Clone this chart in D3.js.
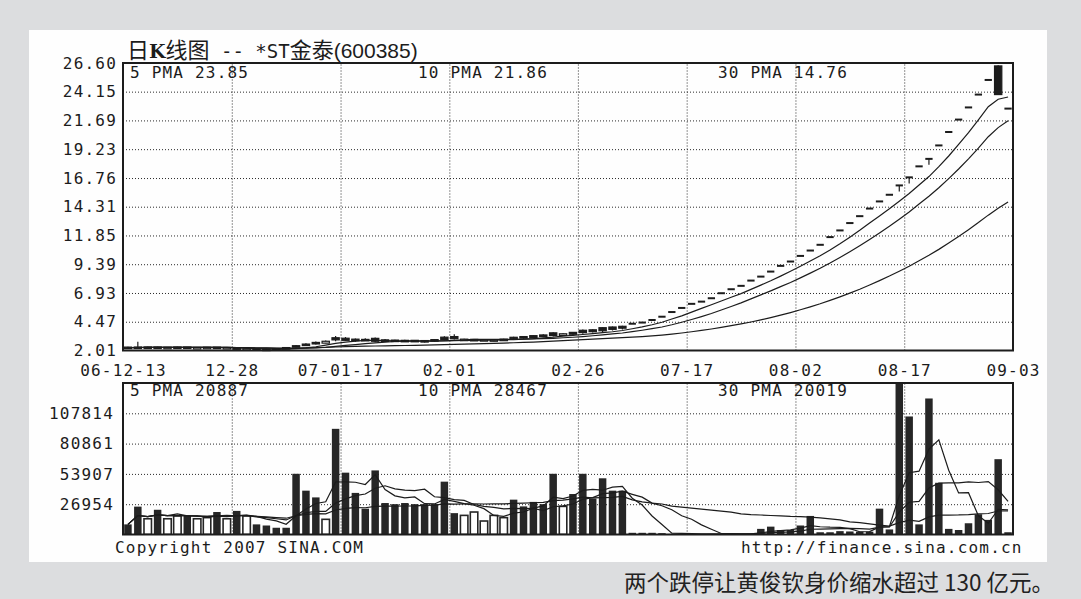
<!DOCTYPE html>
<html>
<head>
<meta charset="utf-8">
<script src="https://cdn.jsdelivr.net/npm/d3@7"></script>
<style>
  body { margin: 0; background: #dcdddf; }
  svg { display: block; }
</style>
</head>
<body>
<svg id="chart" width="1081" height="599"></svg>
<script>
// ---- data ----------------------------------------------------------------
var xLabels  = ["06-12-13", "12-28", "07-01-17", "02-01", "02-26", "07-17", "08-02", "08-17", "09-03"];
var xTickIdx = [0, 11, 22, 33, 46, 57, 68, 79, 90];

var priceTicks = ["2.01", "4.47", "6.93", "9.39", "11.85", "14.31", "16.76", "19.23", "21.69", "24.15", "26.60"];
var volTicks   = ["26954", "53907", "80861", "107814"];

var priceLegend = ["5 PMA 23.85", "10 PMA 21.86", "30 PMA 14.76"];
var volLegend   = ["5 PMA 20887", "10 PMA 28467", "30 PMA 20019"];

var open = [2.30, 2.31, 2.26, 2.31, 2.25, 2.28, 2.31, 2.23, 2.26, 2.30,
            2.23, 2.24, 2.11, 2.15, 2.13, 2.16, 2.26, 2.42, 2.56, 2.70,
            2.64, 3.10, 3.06, 2.98, 2.96, 3.05, 2.92, 2.90, 2.88, 2.88,
            2.86, 2.94, 3.15, 3.20, 2.88, 2.90, 2.86, 2.88, 2.90, 3.14,
            3.20, 3.28, 3.34, 3.52, 3.30, 3.56, 3.74, 3.78, 3.96, 4.02,
            4.08, 4.30, 4.40, 4.62, 4.90, 5.30, 5.65, 6.00, 6.19, 6.48,
            6.91, 7.25, 7.54, 7.99, 8.33, 8.76, 9.25, 9.62, 10.10, 10.56,
            11.05, 11.71, 12.28, 12.91, 13.50, 14.15, 14.76, 15.33, 16.13, 16.82,
            17.76, 18.40, 19.55, 20.70, 21.76, 22.80, 23.90, 25.15, 26.35, 22.70];
var high = [2.33, 2.75, 2.34, 2.33, 2.31, 2.33, 2.32, 2.29, 2.31, 2.32,
            2.30, 2.25, 2.17, 2.17, 2.15, 2.20, 2.30, 2.48, 2.62, 2.78,
            2.86, 3.25, 3.16, 3.04, 3.05, 3.12, 3.00, 2.94, 2.92, 2.90,
            2.88, 2.96, 3.22, 3.40, 3.02, 3.00, 2.98, 2.97, 3.01, 3.18,
            3.24, 3.32, 3.40, 3.58, 3.50, 3.60, 3.80, 3.82, 4.00, 4.06,
            4.12, 4.30, 4.40, 4.62, 4.90, 5.30, 5.65, 6.00, 6.19, 6.48,
            6.91, 7.25, 7.54, 7.99, 8.33, 8.76, 9.25, 9.62, 10.10, 10.56,
            11.05, 11.71, 12.28, 12.91, 13.50, 14.15, 14.76, 15.33, 16.13, 16.82,
            17.76, 18.40, 19.55, 20.70, 21.76, 22.80, 23.90, 25.15, 26.40, 22.70];
var low  = [2.24, 2.22, 2.24, 2.22, 2.23, 2.24, 2.21, 2.20, 2.23, 2.21,
            2.21, 2.10, 2.07, 2.06, 2.06, 2.09, 2.14, 2.26, 2.39, 2.52,
            2.62, 2.80, 2.82, 2.76, 2.83, 2.72, 2.80, 2.76, 2.74, 2.74,
            2.70, 2.76, 2.86, 2.96, 2.84, 2.82, 2.84, 2.80, 2.85, 2.96,
            3.02, 3.05, 3.15, 3.20, 3.28, 3.32, 3.44, 3.55, 3.60, 3.72,
            3.80, 4.30, 4.40, 4.62, 4.90, 5.30, 5.65, 6.00, 6.19, 6.48,
            6.91, 7.25, 7.54, 7.99, 8.33, 8.76, 9.25, 9.62, 10.10, 10.56,
            11.05, 11.71, 12.28, 12.91, 13.50, 14.15, 14.76, 15.33, 15.60, 16.30,
            17.76, 17.90, 19.55, 20.70, 21.76, 22.80, 23.90, 25.15, 23.90, 22.70];
var close = [2.26, 2.27, 2.31, 2.25, 2.29, 2.31, 2.24, 2.27, 2.29, 2.23,
            2.27, 2.12, 2.15, 2.09, 2.08, 2.12, 2.18, 2.32, 2.45, 2.58,
            2.80, 2.92, 2.88, 2.86, 2.88, 2.80, 2.84, 2.80, 2.82, 2.78,
            2.80, 2.86, 2.95, 3.02, 2.98, 2.96, 2.94, 2.93, 2.98, 3.02,
            3.08, 3.12, 3.22, 3.30, 3.44, 3.40, 3.54, 3.62, 3.70, 3.82,
            3.92, 4.30, 4.40, 4.62, 4.90, 5.30, 5.65, 6.00, 6.19, 6.48,
            6.91, 7.25, 7.54, 7.99, 8.33, 8.76, 9.25, 9.62, 10.10, 10.56,
            11.05, 11.71, 12.28, 12.91, 13.50, 14.15, 14.76, 15.33, 16.13, 16.82,
            17.76, 18.40, 19.55, 20.70, 21.76, 22.80, 23.90, 25.15, 23.90, 22.70];
var volume = [9000, 24800, 14000, 22000, 14000, 16500, 16500, 14000, 15000, 20000,
            14000, 21000, 16500, 9000, 8000, 6000, 6000, 54000, 39000, 33000,
            13500, 94000, 55000, 37000, 23000, 57000, 28000, 27000, 28000, 27000,
            27000, 27000, 47000, 19000, 17000, 20000, 12000, 17000, 15000, 31000,
            25000, 29000, 27000, 54000, 25000, 36000, 54000, 32000, 50000, 39000,
            39000, 1500, 1500, 1500, 1200, 500, 500, 500, 500, 500,
            500, 500, 500, 500, 5000, 7000, 4000, 4000, 8000, 16500,
            2000, 2000, 3000, 2700, 2500, 2500, 23000, 4500, 140000, 105000,
            9000, 121000, 46000, 5000, 4000, 10000, 18000, 13000, 67000, 2000];

var maPeriods = [5, 10, 30];

// ---- layout ----------------------------------------------------------------
var W = 1081, H = 599;
var plotL = 123, plotR = 1013;
var priceTop = 63, priceBot = 350.5;
var volTop = 383, volBot = 534.5;
var mono = "'DejaVu Sans Mono', 'Liberation Mono', monospace";
var cjk = "'Noto Sans CJK SC', sans-serif";
var ink = "#1c1c1c";

var svg = d3.select("#chart");

svg.append("rect").attr("width", W).attr("height", H).attr("fill", "#dcdddf");
svg.append("rect")
    .attr("x", 29).attr("y", 30)
    .attr("width", 1018).attr("height", 532)
    .attr("fill", "#fefefe");

var x = d3.scaleLinear().domain([0, close.length]).range([plotL, plotR]);
var yP = d3.scaleLinear()
    .domain([+priceTicks[0], +priceTicks[priceTicks.length - 1]])
    .range([priceBot, priceTop]);
var yV = d3.scaleLinear()
    .domain([0, +volTicks[0] * 5])
    .range([volBot, volTop]);

function movingAvg(values, n) {
    return values.map(function (v, i) {
        return d3.mean(values.slice(Math.max(0, i - n + 1), i + 1));
    });
}

function styleTicks(g) {
    g.select(".domain").remove();
    g.selectAll("text")
        .attr("font-family", mono)
        .attr("font-size", 16)
        .attr("letter-spacing", 1.2)
        .attr("fill", ink);
}

// grids (dotted)
function grid(top, bot, yScale, yVals) {
    var g = svg.append("g");
    g.append("g")
        .attr("transform", "translate(0," + bot + ")")
        .call(d3.axisBottom(x).tickValues(xTickIdx.slice(1, -1)).tickSize(-(bot - top)).tickFormat(""))
        .call(function (a) { a.select(".domain").remove(); });
    g.append("g")
        .attr("transform", "translate(" + plotL + ",0)")
        .call(d3.axisLeft(yScale).tickValues(yVals).tickSize(-(plotR - plotL)).tickFormat(""))
        .call(function (a) { a.select(".domain").remove(); });
    g.selectAll(".tick line")
        .attr("stroke", "#2a2a2a")
        .attr("stroke-width", 1)
        .attr("stroke-dasharray", "1,2");
}
grid(priceTop, priceBot, yP, priceTicks.slice(1, -1).map(Number));
grid(volTop, volBot, yV, volTicks.map(Number));

// axes labels
svg.append("g")
    .attr("transform", "translate(" + plotL + ",0)")
    .call(d3.axisLeft(yP).tickValues(priceTicks.map(Number)).tickSize(0).tickPadding(6)
        .tickFormat(function (d, i) { return priceTicks[i]; }))
    .call(styleTicks);

svg.append("g")
    .attr("transform", "translate(" + plotL + ",0)")
    .call(d3.axisLeft(yV).tickValues(volTicks.map(Number)).tickSize(0).tickPadding(9)
        .tickFormat(function (d, i) { return volTicks[i]; }))
    .call(styleTicks);

svg.append("g")
    .attr("transform", "translate(0," + priceBot + ")")
    .call(d3.axisBottom(x).tickValues(xTickIdx).tickSize(0).tickPadding(14)
        .tickFormat(function (d, i) { return xLabels[i]; }))
    .call(styleTicks);

// candles
var slot = x(1) - x(0);
var half = slot / 2 - 1.3;
var candles = svg.append("g");
close.forEach(function (c, i) {
    var cx = x(i + 0.5);
    if (high[i] > low[i]) {
        candles.append("line")
            .attr("x1", cx).attr("x2", cx)
            .attr("y1", yP(high[i])).attr("y2", yP(low[i]))
            .attr("stroke", ink).attr("stroke-width", 1.2);
    }
    if (open[i] === c) {
        candles.append("line")
            .attr("x1", cx - half).attr("x2", cx + half)
            .attr("y1", yP(c)).attr("y2", yP(c))
            .attr("stroke", ink).attr("stroke-width", 2);
    } else {
        var top = yP(Math.max(open[i], c)), bot = yP(Math.min(open[i], c));
        candles.append("rect")
            .attr("x", cx - half).attr("y", top)
            .attr("width", half * 2).attr("height", Math.max(1.5, bot - top))
            .attr("fill", c > open[i] ? "#fff" : ink)
            .attr("stroke", ink).attr("stroke-width", 1.2);
    }
});

var line = function (scale) {
    return d3.line().x(function (d, i) { return x(i + 0.5); }).y(function (d) { return scale(d); });
};
maPeriods.forEach(function (n) {
    svg.append("path")
        .attr("d", line(yP)(movingAvg(close, n)))
        .attr("fill", "none").attr("stroke", ink).attr("stroke-width", 1.2);
});

// volume
svg.append("clipPath").attr("id", "volClip")
    .append("rect").attr("x", plotL).attr("y", volTop)
    .attr("width", plotR - plotL).attr("height", volBot - volTop);

var vol = svg.append("g").attr("clip-path", "url(#volClip)");
vol.selectAll("rect.bar")
    .data(volume)
    .join("rect")
        .attr("class", "bar")
        .attr("x", function (d, i) { return x(i) + 1.2; })
        .attr("width", slot - 2.4)
        .attr("y", function (d) { return yV(d); })
        .attr("height", function (d) { return volBot - yV(d); })
        .attr("fill", function (d, i) { return close[i] > open[i] ? "#fff" : "#262626"; })
        .attr("stroke", "#262626")
        .attr("stroke-width", function (d, i) { return close[i] > open[i] ? 1.6 : 0; });

maPeriods.forEach(function (n) {
    vol.append("path")
        .attr("d", line(yV)(movingAvg(volume, n)))
        .attr("fill", "none").attr("stroke", ink).attr("stroke-width", 1.2);
});

// frames
[[priceTop, priceBot], [volTop, volBot]].forEach(function (p) {
    svg.append("rect")
        .attr("x", plotL).attr("y", p[0])
        .attr("width", plotR - plotL).attr("height", p[1] - p[0])
        .attr("fill", "none").attr("stroke", ink).attr("stroke-width", 2);
});

// legends
var legendX = [130, 418, 718];
function legend(texts, baseline) {
    svg.selectAll(null).data(texts).join("text")
        .attr("x", function (d, i) { return legendX[i]; })
        .attr("y", baseline)
        .attr("font-family", mono).attr("font-size", 16).attr("letter-spacing", 1.2)
        .attr("fill", ink)
        .text(function (d) { return d; });
}
legend(priceLegend, 78);
legend(volLegend, 396);

// title
var title = svg.append("text").attr("x", 127).attr("y", 58).attr("fill", ink);
title.append("tspan").attr("font-family", cjk).attr("font-size", 22).text("日");
title.append("tspan").attr("font-family", "'DejaVu Serif', serif").attr("font-weight", "bold")
    .attr("font-size", 19).text("K");
title.append("tspan").attr("font-family", cjk).attr("font-size", 22).text("线图");
title.append("tspan").attr("font-family", mono).attr("font-size", 19).text(" -- *ST");
title.append("tspan").attr("font-family", cjk).attr("font-size", 22).text("金泰");
title.append("tspan").attr("font-family", "'Liberation Sans', sans-serif").attr("font-size", 21).text("(600385)");

// footer
svg.append("text").attr("x", 115).attr("y", 553)
    .attr("font-family", mono).attr("font-size", 16).attr("letter-spacing", 1.2).attr("fill", ink)
    .text("Copyright 2007 SINA.COM");
svg.append("text").attr("x", 741).attr("y", 553)
    .attr("font-family", mono).attr("font-size", 16).attr("letter-spacing", 1.2).attr("fill", ink)
    .text("http://finance.sina.com.cn");

svg.append("text").attr("x", 1054).attr("y", 591)
    .attr("text-anchor", "end")
    .attr("font-family", cjk).attr("font-size", 22.5).attr("fill", "#222")
    .text("两个跌停让黄俊钦身价缩水超过 130 亿元。");
</script>
</body>
</html>
